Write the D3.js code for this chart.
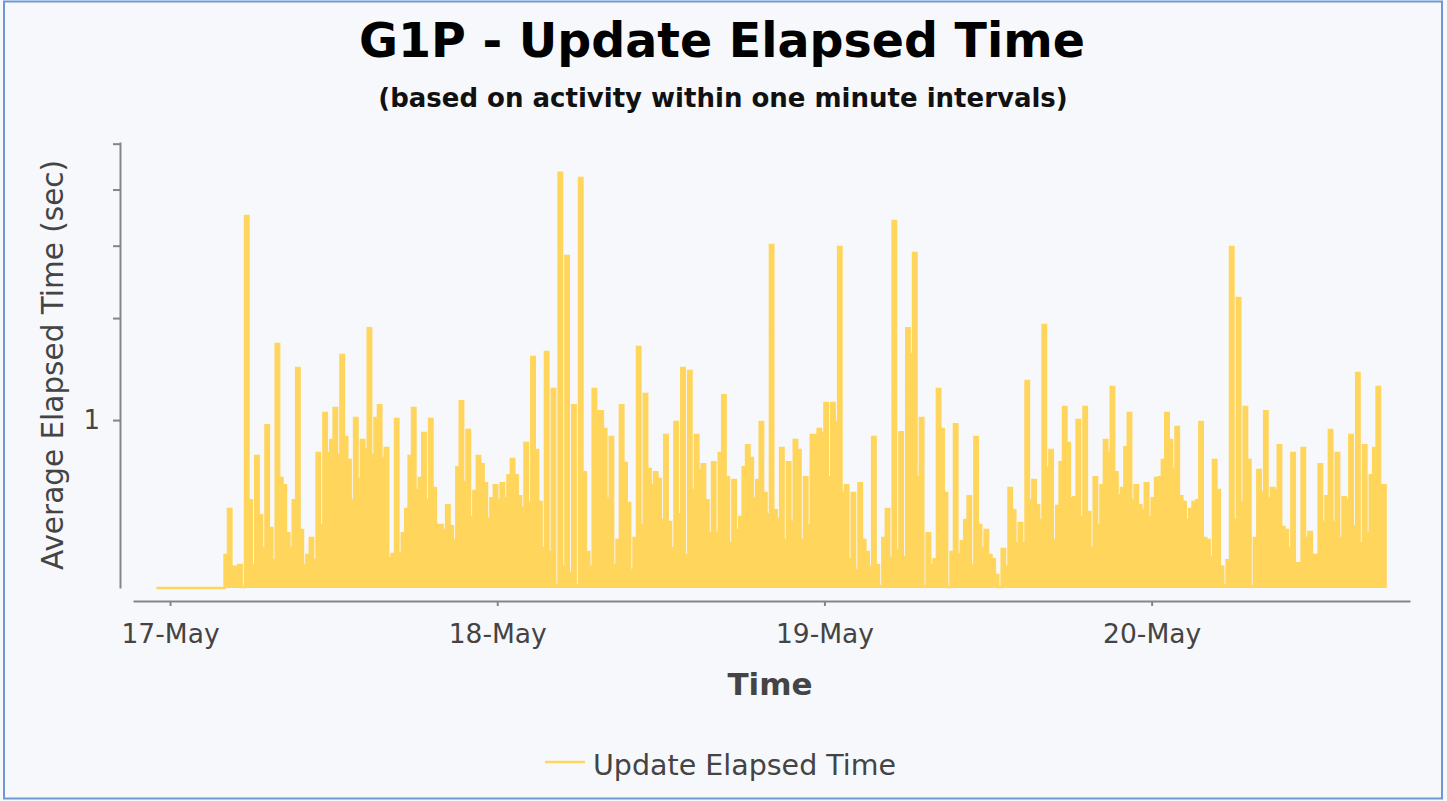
<!DOCTYPE html>
<html lang="en">

<head>
  <meta charset="utf-8" />
  <style>
    body {
      margin: 0;
      background-color: #f7f8fc;
    }

    text {
      font-family: "DejaVu Sans", sans-serif;
    }
  </style>
</head>

<body>
  <div id="chart1"></div>

  <script src="https://cdnjs.cloudflare.com/ajax/libs/d3/7.8.5/d3.min.js"></script>

  <script>
    // series: average elapsed time (sec), one value per 15 minutes, starting 16-May 23:00
    const seriesName = "Update Elapsed Time";
    const startTime = new Date(2012, 4, 16, 23, 0);
    const stepMinutes = 15;

    const values = [
      0, 0, 0, 0, 0, 0, 0, 0, 0, 0, 0, 0, 0, 0, 0, 0, 0, 0, 0, 0,
      0.585, 0.702, 0.558, 0.558, 0.562, 0.515, 2.25, 0.727, 0.562, 0.867, 0.685, 0.601, 0.98, 0.651, 0.573, 1.353, 0.794, 0.772, 0.638, 0.601,
      0.727, 1.23, 0.646, 0.562, 0.585, 0.626, 0.573, 0.877, 0.659, 1.028, 0.877, 0.924, 1.049, 0.87, 1.295, 0.935, 0.853, 0.727, 1.008, 0.791,
      0.924, 0.891, 1.441, 0.87, 1.008, 1.061, 0.86, 0.895, 0.578, 0.587, 1.004, 0.589, 0.638, 0.702, 0.867, 1.049, 0.757, 0.794, 0.95, 0.727,
      1.004, 0.763, 0.659, 0.659, 0.646, 0.713, 0.656, 0.621, 0.829, 1.078, 0.782, 0.961, 0.68, 0.754, 0.867, 0.839, 0.778, 0.675, 0.733, 0.772,
      0.727, 0.778, 0.733, 0.803, 0.857, 0.803, 0.739, 0.705, 0.913, 0.719, 1.285, 0.888, 0.722, 0.601, 1.311, 0.592, 1.131, 0.519, 2.672, 0.558,
      1.92, 0.545, 1.061, 0.519, 2.618, 0.813, 0.592, 0.558, 1.131, 1.036, 1.036, 0.965, 0.733, 0.935, 0.562, 0.621, 1.061, 0.843, 0.719, 0.551,
      0.626, 1.337, 0.659, 1.109, 0.823, 0.772, 0.813, 0.791, 0.672, 0.942, 0.667, 0.601, 0.992, 0.688, 1.23, 0.585, 1.215, 0.757, 0.942, 0.82,
      0.839, 0.727, 0.638, 0.846, 0.638, 0.877, 1.104, 0.797, 0.613, 0.788, 0.646, 0.68, 0.829, 0.905, 0.86, 0.733, 0.788, 0.992, 0.748, 0.688,
      2.006, 0.699, 0.675, 0.895, 0.621, 0.846, 0.667, 0.924, 0.888, 0.621, 0.797, 0.659, 0.942, 0.942, 0.965, 0.95, 1.07, 0.797, 1.07, 0.992,
      1.99, 0.748, 0.772, 0.575, 0.748, 0.551, 0.778, 0.621, 0.592, 0.558, 0.935, 0.562, 0.517, 0.626, 0.702, 0.578, 2.207, 0.596, 0.953, 0.58,
      1.441, 1.3, 1.943, 0.797, 1.008, 0.517, 0.638, 0.562, 0.575, 1.131, 0.965, 0.748, 0.515, 0.592, 0.984, 0.587, 0.618, 0.672, 0.739, 0.562,
      0.935, 0.659, 0.601, 0.646, 0.585, 0.575, 0.54, 0.515, 0.599, 0.558, 0.763, 0.699, 0.613, 0.664, 0.613, 1.168, 0.727, 0.788, 0.713, 0.672,
      1.459, 0.826, 0.888, 0.621, 0.711, 0.846, 1.053, 0.913, 0.733, 0.736, 1.0, 0.68, 1.053, 0.694, 0.601, 0.797, 0.659, 0.772, 0.924, 0.877,
      1.14, 0.813, 0.742, 0.763, 0.898, 1.028, 0.727, 0.772, 0.713, 0.699, 0.778, 0.68, 0.733, 0.794, 0.797, 0.853, 1.028, 0.924, 0.823, 0.973,
      0.739, 0.722, 0.672, 0.702, 0.722, 0.727, 0.992, 0.626, 0.621, 0.58, 0.853, 0.757, 0.558, 0.519, 0.573, 1.99, 0.672, 1.624, 0.722, 1.053,
      0.853, 0.517, 0.626, 0.82, 0.751, 1.036, 0.733, 0.763, 0.757, 0.905, 0.654, 0.646, 0.601, 0.877, 0.566, 0.566, 0.895, 0.626, 0.641, 0.585,
      0.585, 0.839, 0.667, 0.739, 0.961, 0.667, 0.877, 0.626, 0.736, 0.727, 0.942, 0.656, 1.206, 0.613, 0.905, 0.638, 0.803, 0.895, 1.14, 0.772, 0.772
    ];

    // axis ticks
    const dayTicks = [
      new Date(2012, 4, 17), new Date(2012, 4, 18),
      new Date(2012, 4, 19), new Date(2012, 4, 20)
    ];
    const yTicks = [1, 1.5, 2, 2.5, 3];
    const yLabeled = [1];

    const width = 1447;
    const height = 801;
    const color = "#ffd55c";
    const textColor = "#444444";
    const axisColor = "#858585";

    const svg = d3
      .select("#chart1")
      .append("svg")
      .attr("width", width)
      .attr("height", height)
      .style("display", "block");

    svg.append("rect")
      .attr("width", width)
      .attr("height", height)
      .attr("fill", "#f7f8fc");

    // outer frame
    svg.append("rect")
      .attr("x", 4)
      .attr("y", 1.5)
      .attr("width", 1438)
      .attr("height", 797)
      .attr("fill", "none")
      .attr("stroke", "#6f97d4")
      .attr("stroke-width", 2);

    const x = d3.scaleTime()
      .domain([new Date(2012, 4, 16, 21, 17), new Date(2012, 4, 20, 18, 57)])
      .range([133, 1410]);

    const y = d3.scaleLog()
      .domain([0.513, 3.02])
      .range([588, 142]);

    const points = values.map((v, i) => ({
      t: new Date(startTime.getTime() + i * stepMinutes * 60000),
      v: v
    }));
    // close the last step
    points.push({
      t: new Date(startTime.getTime() + values.length * stepMinutes * 60000),
      v: values[values.length - 1]
    });

    const yv = d => y(Math.max(d.v, y.domain()[0]));

    const area = d3.area()
      .curve(d3.curveStepAfter)
      .x(d => x(d.t))
      .y0(y.range()[0])
      .y1(yv);

    const line = d3.line()
      .curve(d3.curveStepAfter)
      .x(d => x(d.t))
      .y(yv);

    svg.append("path")
      .datum(points)
      .attr("fill", color)
      .attr("d", area);

    svg.append("path")
      .datum(points)
      .attr("fill", "none")
      .attr("stroke", color)
      .attr("stroke-width", 2.5)
      .attr("d", line);

    // x axis
    const xAxis = svg.append("g")
      .attr("transform", "translate(0,601)")
      .call(d3.axisBottom(x)
        .tickValues(dayTicks)
        .tickFormat(d3.timeFormat("%d-%b"))
        .tickSize(5)
        .tickSizeOuter(0));

    xAxis.select(".domain").attr("stroke", axisColor).attr("stroke-width", 2);
    xAxis.selectAll(".tick line").attr("stroke", axisColor).attr("stroke-width", 2);
    xAxis.selectAll(".tick text")
      .attr("y", 42)
      .attr("dy", null)
      .attr("fill", textColor)
      .style("font-size", "26.5px");

    // y axis (log)
    const yAxis = svg.append("g")
      .attr("transform", "translate(120,0)")
      .call(d3.axisLeft(y)
        .tickValues(yTicks)
        .tickFormat(d => yLabeled.includes(d) ? d3.format("d")(d) : "")
        .tickSize(7)
        .tickPadding(13)
        .tickSizeOuter(0));

    yAxis.select(".domain").attr("stroke", axisColor).attr("stroke-width", 2);
    yAxis.selectAll(".tick line").attr("stroke", axisColor).attr("stroke-width", 2);
    yAxis.selectAll(".tick text")
      .attr("fill", textColor)
      .style("font-size", "26px");

    // titles
    svg.append("text")
      .attr("x", 722)
      .attr("y", 57)
      .attr("text-anchor", "middle")
      .style("font-size", "47.5px")
      .style("font-weight", "bold")
      .attr("fill", "#000")
      .text("G1P - Update Elapsed Time");

    svg.append("text")
      .attr("x", 723)
      .attr("y", 107)
      .attr("text-anchor", "middle")
      .style("font-size", "26px")
      .style("font-weight", "bold")
      .attr("fill", "#111")
      .text("(based on activity within one minute intervals)");

    svg.append("text")
      .attr("x", 770)
      .attr("y", 695)
      .attr("text-anchor", "middle")
      .style("font-size", "31px")
      .style("font-weight", "bold")
      .attr("fill", textColor)
      .text("Time");

    svg.append("text")
      .attr("transform", "translate(63,365) rotate(-90)")
      .attr("text-anchor", "middle")
      .style("font-size", "29.5px")
      .attr("fill", textColor)
      .text("Average Elapsed Time (sec)");

    // legend
    svg.append("line")
      .attr("x1", 545)
      .attr("x2", 585)
      .attr("y1", 762)
      .attr("y2", 762)
      .attr("stroke", color)
      .attr("stroke-width", 2.5);

    svg.append("text")
      .attr("x", 593)
      .attr("y", 775)
      .style("font-size", "28.5px")
      .attr("fill", textColor)
      .text(seriesName);
  </script>
</body>

</html>
